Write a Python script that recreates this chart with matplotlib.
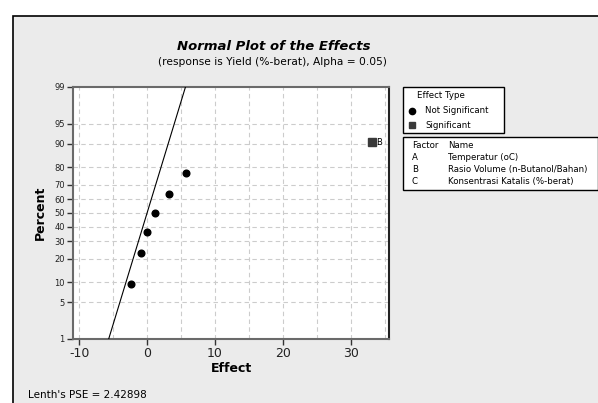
from statistics import NormalDist
import matplotlib
matplotlib.use("Agg")
import matplotlib.pyplot as plt
from matplotlib.patches import Rectangle

# effects
effects_ns = [-2.3, -0.9, -0.05, 1.1, 3.2, 5.7]
percent_ns = [9.5, 23.0, 36.5, 50.0, 63.5, 77.0]
effects_sig = [33.1]
percent_sig = [90.5]
sig_labels = ["B"]
pse = 2.42898

ytick_pct = [1, 5, 10, 20, 30, 40, 50, 60, 70, 80, 90, 95, 99]
xtick_vals = [-10, 0, 10, 20, 30]

factors = ["A", "B", "C"]
factor_names = ["Temperatur (oC)", "Rasio Volume (n-Butanol/Bahan)",
                "Konsentrasi Katalis (%-berat)"]

nd = NormalDist()


def z(p):
    return nd.inv_cdf(p / 100.0)


W, H = 598, 403
plt.rcParams["font.family"] = "DejaVu Sans"
fig = plt.figure(figsize=(W / 100, H / 100), dpi=100)
fig.patch.set_facecolor("white")


def px(x, y):
    return x / W, 1 - y / H


# grey frame
fig.patches.append(Rectangle(px(13, 404), (W - 13 + 5) / W, (404 - 16) / H,
                             transform=fig.transFigure, facecolor="#ebebeb",
                             edgecolor="black", lw=1.2, zorder=0))

ax = fig.add_axes([73 / W, 1 - 339 / H, 316 / W, 252 / H])
ax.set_zorder(2)
ax.set_facecolor("white")

# fitted line
line_pct = [1, 99]
ax.plot([pse * z(p) for p in line_pct], [z(p) for p in line_pct],
        color="black", lw=0.8, zorder=3)

ax.plot(effects_ns, [z(p) for p in percent_ns], "o", color="black",
        markersize=4.8, zorder=4)
ax.plot(effects_sig, [z(p) for p in percent_sig], "s", color="#3a3a3a",
        markersize=5.2, zorder=4)
for e, p, lab in zip(effects_sig, percent_sig, sig_labels):
    ax.annotate(lab, (e, z(p)), xytext=(3, 0), textcoords="offset points",
                va="center", ha="left", fontsize=6)

ax.set_xlim(-10.9, 35.6)
ax.set_ylim(z(1), z(99))
ax.set_xticks(xtick_vals)
ax.set_xticklabels([str(v) for v in xtick_vals], fontsize=9, color="#222222")
ax.set_yticks([z(p) for p in ytick_pct])
ax.set_yticklabels([str(p) for p in ytick_pct], fontsize=6, color="#222222")
for xv in range(-10, 36, 5):
    ax.axvline(xv, color="#cccccc", lw=0.8, ls=(0, (4, 3)), zorder=1)
for p in ytick_pct[1:-1]:
    ax.axhline(z(p), color="#cccccc", lw=0.8, ls=(0, (4, 3)), zorder=1)
ax.tick_params(axis="both", direction="out", length=4, width=1,
               color="#333333", pad=2)
for s in ["left", "bottom", "top"]:
    ax.spines[s].set_color("#6a6a6a")
    ax.spines[s].set_linewidth(1.5)
ax.spines["right"].set_color("#222222")
ax.spines["right"].set_linewidth(1.5)

ax.set_xlabel("Effect", fontsize=9, fontweight="bold", labelpad=1)
ax.set_ylabel("Percent", fontsize=9, fontweight="bold", labelpad=5)

fig.text(*px(274, 46), "Normal Plot of the Effects", fontsize=9.5,
         fontweight="bold", fontstyle="italic", ha="center", va="center")
fig.text(*px(272, 62), "(response is Yield (%-berat), Alpha = 0.05)",
         fontsize=7.7, ha="center", va="center")
fig.text(*px(28, 395), "Lenth's PSE = 2.42898", fontsize=7.5,
         ha="left", va="center")

# legend box 1
fig.patches.append(Rectangle(px(403, 133), 101 / W, 46 / H,
                             transform=fig.transFigure, facecolor="white",
                             edgecolor="black", lw=1))
fig.text(*px(417, 96), "Effect Type", fontsize=6.2, va="center")
fig.lines.append(plt.Line2D([412 / W], [1 - 110.5 / H], marker="o",
                            color="black", markersize=4.5,
                            transform=fig.transFigure))
fig.text(*px(425, 110.5), "Not Significant", fontsize=6.2, va="center")
fig.lines.append(plt.Line2D([412 / W], [1 - 125 / H], marker="s",
                            color="#3a3a3a", markersize=5,
                            transform=fig.transFigure))
fig.text(*px(425, 125), "Significant", fontsize=6.2, va="center")

# legend box 2
fig.patches.append(Rectangle(px(403, 190), 195 / W, 53 / H,
                             transform=fig.transFigure, facecolor="white",
                             edgecolor="black", lw=1))
fig.text(*px(412, 146), "Factor", fontsize=6.2, va="center")
fig.text(*px(448, 146), "Name", fontsize=6.2, va="center")
for i, (f, n) in enumerate(zip(factors, factor_names)):
    y = 157.7 + i * 11.8
    fig.text(*px(412, y), f, fontsize=6.2, va="center")
    fig.text(*px(448, y), n, fontsize=6.2, va="center")

fig.savefig("out.png", dpi=100, facecolor=fig.get_facecolor())
